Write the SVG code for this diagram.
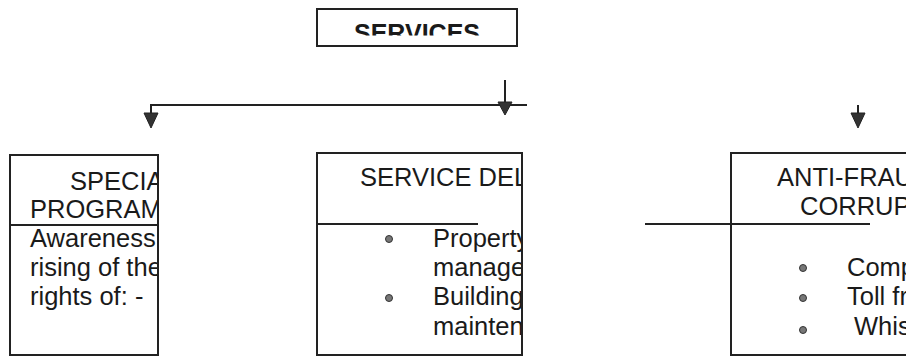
<svg xmlns="http://www.w3.org/2000/svg" width="906" height="356" viewBox="0 0 906 356">
<style>
.box{fill:#fff;stroke:#222;stroke-width:2}
.ln{stroke:#222;stroke-width:2;fill:none}
.t{font-family:"Liberation Sans",Arial,sans-serif;font-size:25.5px;fill:#1a1a1a}
.tb{font-family:"Liberation Sans",Arial,sans-serif;font-size:25px;font-weight:bold;fill:#1a1a1a}
.bul{fill:#777;stroke:#333;stroke-width:1}
.ah{fill:#333;stroke:#222;stroke-width:1}
</style>
<defs>
<clipPath id="cTop"><rect x="318" y="10" width="198" height="25.5"/></clipPath>
<clipPath id="cL"><rect x="11" y="156" width="146" height="200"/></clipPath>
<clipPath id="cM"><rect x="318" y="154" width="203" height="202"/></clipPath>
<clipPath id="cR"><rect x="732" y="154" width="174" height="202"/></clipPath>
</defs>
<g id="connectors">
<line class="ln" x1="151" y1="105" x2="527" y2="105"/>
<line class="ln" x1="151" y1="104" x2="151" y2="114"/>
<polygon class="ah" points="144,113 158,113 151,128"/>
<line class="ln" x1="505" y1="80" x2="505" y2="103"/>
<polygon class="ah" points="498,102 512,102 505,115"/>
<line class="ln" x1="858" y1="105" x2="858" y2="114"/>
<polygon class="ah" points="851,113 865,113 858,128"/>
</g>
<g id="services">
<rect class="box" x="317" y="9" width="200" height="37"/>
<text class="tb" x="354" y="42" clip-path="url(#cTop)">SERVICES</text>
</g>
<g id="special">
<rect class="box" x="10" y="155" width="148" height="200"/>
<line class="ln" x1="10" y1="225" x2="158" y2="225"/>
<g clip-path="url(#cL)">
<text class="t" x="70" y="190">SPECIAL</text>
<text class="t" x="30" y="218">PROGRAMS</text>
<text class="t" x="30" y="247">Awareness</text>
<text class="t" x="30" y="276">rising of the</text>
<text class="t" x="30" y="305">rights of: -</text>
</g>
</g>
<g id="delivery">
<rect class="box" x="317" y="153" width="205" height="202"/>
<line class="ln" x1="317" y1="224" x2="478" y2="224"/>
<g clip-path="url(#cM)">
<text class="t" x="360" y="186">SERVICE DELIVERY</text>
<circle class="bul" cx="389" cy="239" r="3.5"/>
<text class="t" x="433" y="247">Property</text>
<text class="t" x="433" y="276">management</text>
<circle class="bul" cx="389" cy="298" r="3.5"/>
<text class="t" x="433" y="305">Building</text>
<text class="t" x="433" y="335">maintenance</text>
</g>
</g>
<g id="antifraud">
<rect class="box" x="731" y="153" width="200" height="202"/>
<line class="ln" x1="645" y1="224" x2="870" y2="224"/>
<g clip-path="url(#cR)">
<text class="t" x="777" y="186">ANTI-FRAUD</text>
<text class="t" x="800" y="215">CORRUPTION</text>
<circle class="bul" cx="803" cy="268" r="3.5"/>
<text class="t" x="847" y="276">Complaints</text>
<circle class="bul" cx="803" cy="298" r="3.5"/>
<text class="t" x="847" y="305">Toll free</text>
<circle class="bul" cx="803" cy="330" r="3.5"/>
<text class="t" x="854" y="335">Whistle</text>
</g>
</g>
</svg>
